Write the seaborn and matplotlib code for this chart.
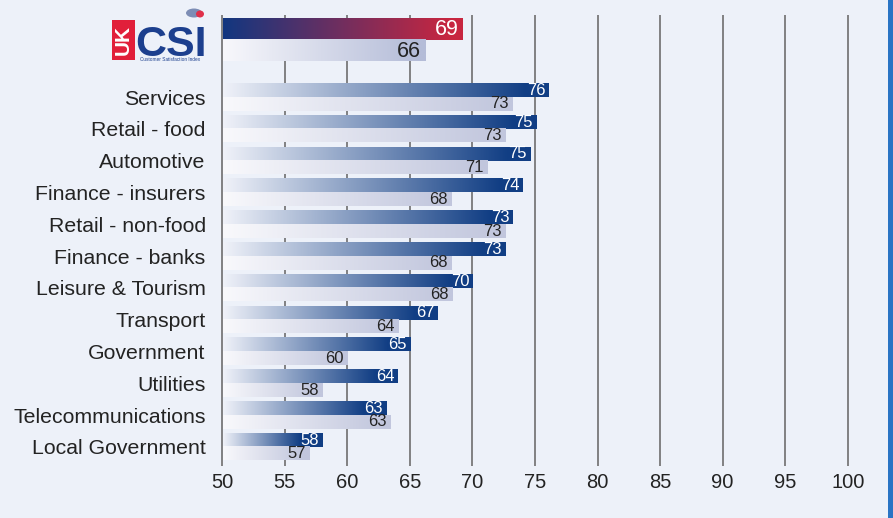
import numpy as np
import pandas as pd
import matplotlib
matplotlib.use("Agg")
import matplotlib.pyplot as plt
import seaborn as sns
from matplotlib.patches import Rectangle, Ellipse

# ---------------- data ----------------
categories = ["Services", "Retail - food", "Automotive", "Finance - insurers",
              "Retail - non-food", "Finance - banks", "Leisure & Tourism",
              "Transport", "Government", "Utilities", "Telecommunications",
              "Local Government"]
# bar lengths (labels show them rounded)
current = [76.1, 75.1, 74.6, 74.0, 73.2, 72.6, 70.0, 67.2, 65.0, 64.0, 63.1, 58.0]
previous = [73.2, 72.6, 71.2, 68.3, 72.6, 68.3, 68.4, 64.1, 60.0, 58.0, 63.4, 57.0]
series = ["Current", "Previous"]
overall_category = ["UK CSI"]
overall_current = [69.2]
overall_previous = [66.2]
xticks = [50, 55, 60, 65, 70, 75, 80, 85, 90, 95, 100]

# ---------------- style ----------------
sns.set_theme(style="white")
plt.rcParams["font.family"] = ["Liberation Sans", "DejaVu Sans"]

BG = "#EDF1F9"
GRID = "#6E6E6E"
TXT = "#232323"

W, H = 893, 518
fig = plt.figure(figsize=(W / 100, H / 100), dpi=100, facecolor=BG)

def fx(px):
    return px / W

def fy(px):
    return 1 - px / H

left, right = 221, 849
ax_top = fig.add_axes([fx(left), fy(66), fx(right - left), (66 - 15) / H])
ax = fig.add_axes([fx(left), fy(466), fx(right - left), (466 - 66) / H])

df_main = pd.DataFrame({
    "category": categories * 2,
    "series": [series[0]] * len(categories) + [series[1]] * len(categories),
    "value": current + previous,
})
df_top = pd.DataFrame({
    "category": overall_category * 2,
    "series": series,
    "value": overall_current + overall_previous,
})

sns.barplot(data=df_main, x="value", y="category", hue="series",
            order=categories, hue_order=series, orient="h", width=0.85,
            dodge=True, ax=ax, legend=False, saturation=1,
            palette=["#113E82", "#C5C9DD"])
sns.barplot(data=df_top, x="value", y="category", hue="series",
            order=overall_category, hue_order=series, orient="h", width=0.8,
            dodge=True, ax=ax_top, legend=False, saturation=1,
            palette=["#C0283F", "#B8BFD9"])

XMIN, XMAX = 49.9, 100.1


def grad_fill(a, patch, c0, c1, solid_units):
    x0 = max(patch.get_x(), 50.05)
    x1 = patch.get_x() + patch.get_width()
    y0 = patch.get_y()
    y1 = y0 + patch.get_height()
    xs = np.linspace(x0, x1, 400)
    end = max(x1 - solid_units, x0 + 0.1)
    t = np.clip((xs - x0) / (end - x0), 0, 1)
    c0 = np.array(c0) / 255.0
    c1 = np.array(c1) / 255.0
    cols = c0[None, :] * (1 - t[:, None]) + c1[None, :] * t[:, None]
    a.imshow(cols[None, :, :], extent=[x0, x1, y1, y0], aspect="auto",
             zorder=2, interpolation="bilinear")
    patch.set_facecolor("none")
    patch.set_edgecolor("none")
    return x1, (y0 + y1) / 2


# main bars
for i, cont in enumerate(ax.containers):
    vals = current if i == 0 else previous
    for patch, v in zip(cont.patches, vals):
        if i == 0:
            x1, yc = grad_fill(ax, patch, (240, 242, 249), (17, 62, 132), 1.8)
            ax.text(x1 - 0.25, yc, f"{v:.0f}", ha="right", va="center",
                    color="white", fontsize=12, zorder=4)
        else:
            x1, yc = grad_fill(ax, patch, (249, 249, 252), (193, 198, 221), 0.5)
            ax.text(x1 - 0.3, yc, f"{v:.0f}", ha="right", va="center",
                    color=TXT, fontsize=12, zorder=4)

# overall bars
for i, cont in enumerate(ax_top.containers):
    vals = overall_current if i == 0 else overall_previous
    for patch, v in zip(cont.patches, vals):
        if i == 0:
            x1, yc = grad_fill(ax_top, patch, (18, 55, 128), (200, 38, 64), 1.0)
            ax_top.text(x1 - 0.3, yc + 0.02, f"{v:.0f}", ha="right", va="center",
                        color="white", fontsize=15.5, zorder=4)
        else:
            x1, yc = grad_fill(ax_top, patch, (248, 248, 252), (180, 188, 216), 0.5)
            ax_top.text(x1 - 0.3, yc + 0.02, f"{v:.0f}", ha="right", va="center",
                        color=TXT, fontsize=15.5, zorder=4)

# axes formatting
for a in (ax, ax_top):
    a.set_facecolor("none")
    a.set_xlim(XMIN, XMAX)
    a.set_xticks(xticks)
    a.grid(axis="x", color=GRID, linewidth=1.2, zorder=0)
    a.grid(axis="y", visible=False)
    a.set_axisbelow(True)
    for s in a.spines.values():
        s.set_visible(False)
    a.set_xlabel("")
    a.set_ylabel("")
    a.tick_params(axis="both", length=0)

ax.set_ylim(11.60, -0.975)
ax.set_xticklabels([str(t) for t in xticks], fontsize=14.5, color=TXT)
ax.tick_params(axis="x", pad=5)
ax.set_yticks(range(len(categories)))
ax.set_yticklabels(categories, fontsize=15.3, color=TXT)
ax.tick_params(axis="y", pad=11)

ax_top.set_ylim(0.493, -0.456)
ax_top.set_xticklabels([])
ax_top.set_yticks([])

# right blue strip
fig.patches.append(Rectangle((fx(888), 0), fx(5), 1, transform=fig.transFigure,
                             facecolor="#2A74C4", edgecolor="none", zorder=0))

# UK CSI logo
fig.patches.append(Rectangle((fx(112), fy(60)), fx(23), 40 / H,
                             transform=fig.transFigure, facecolor="#E11F3A",
                             edgecolor="none", zorder=3))
fig.text(fx(123.5), fy(40), "UK", rotation=90, color="white", fontweight="bold",
         fontsize=15, ha="center", va="center", zorder=4)
fig.text(fx(135), fy(56), "CSI", color="#1C3F8E", fontweight="bold",
         fontsize=31, ha="left", va="baseline", zorder=4)
fig.text(fx(170), fy(59.5), "Customer Satisfaction Index", color="#1C3F8E",
         fontsize=3.4, ha="center", va="center", zorder=4)
fig.patches.append(Ellipse((fx(194), fy(13)), fx(16), 9 / H,
                           transform=fig.transFigure, facecolor="#7D8DB5",
                           edgecolor="none", zorder=3))
fig.patches.append(Ellipse((fx(200), fy(14)), fx(8), 7 / H,
                           transform=fig.transFigure, facecolor="#E0304A",
                           edgecolor="none", zorder=3))

fig.savefig("out.png", dpi=100, facecolor=BG)
